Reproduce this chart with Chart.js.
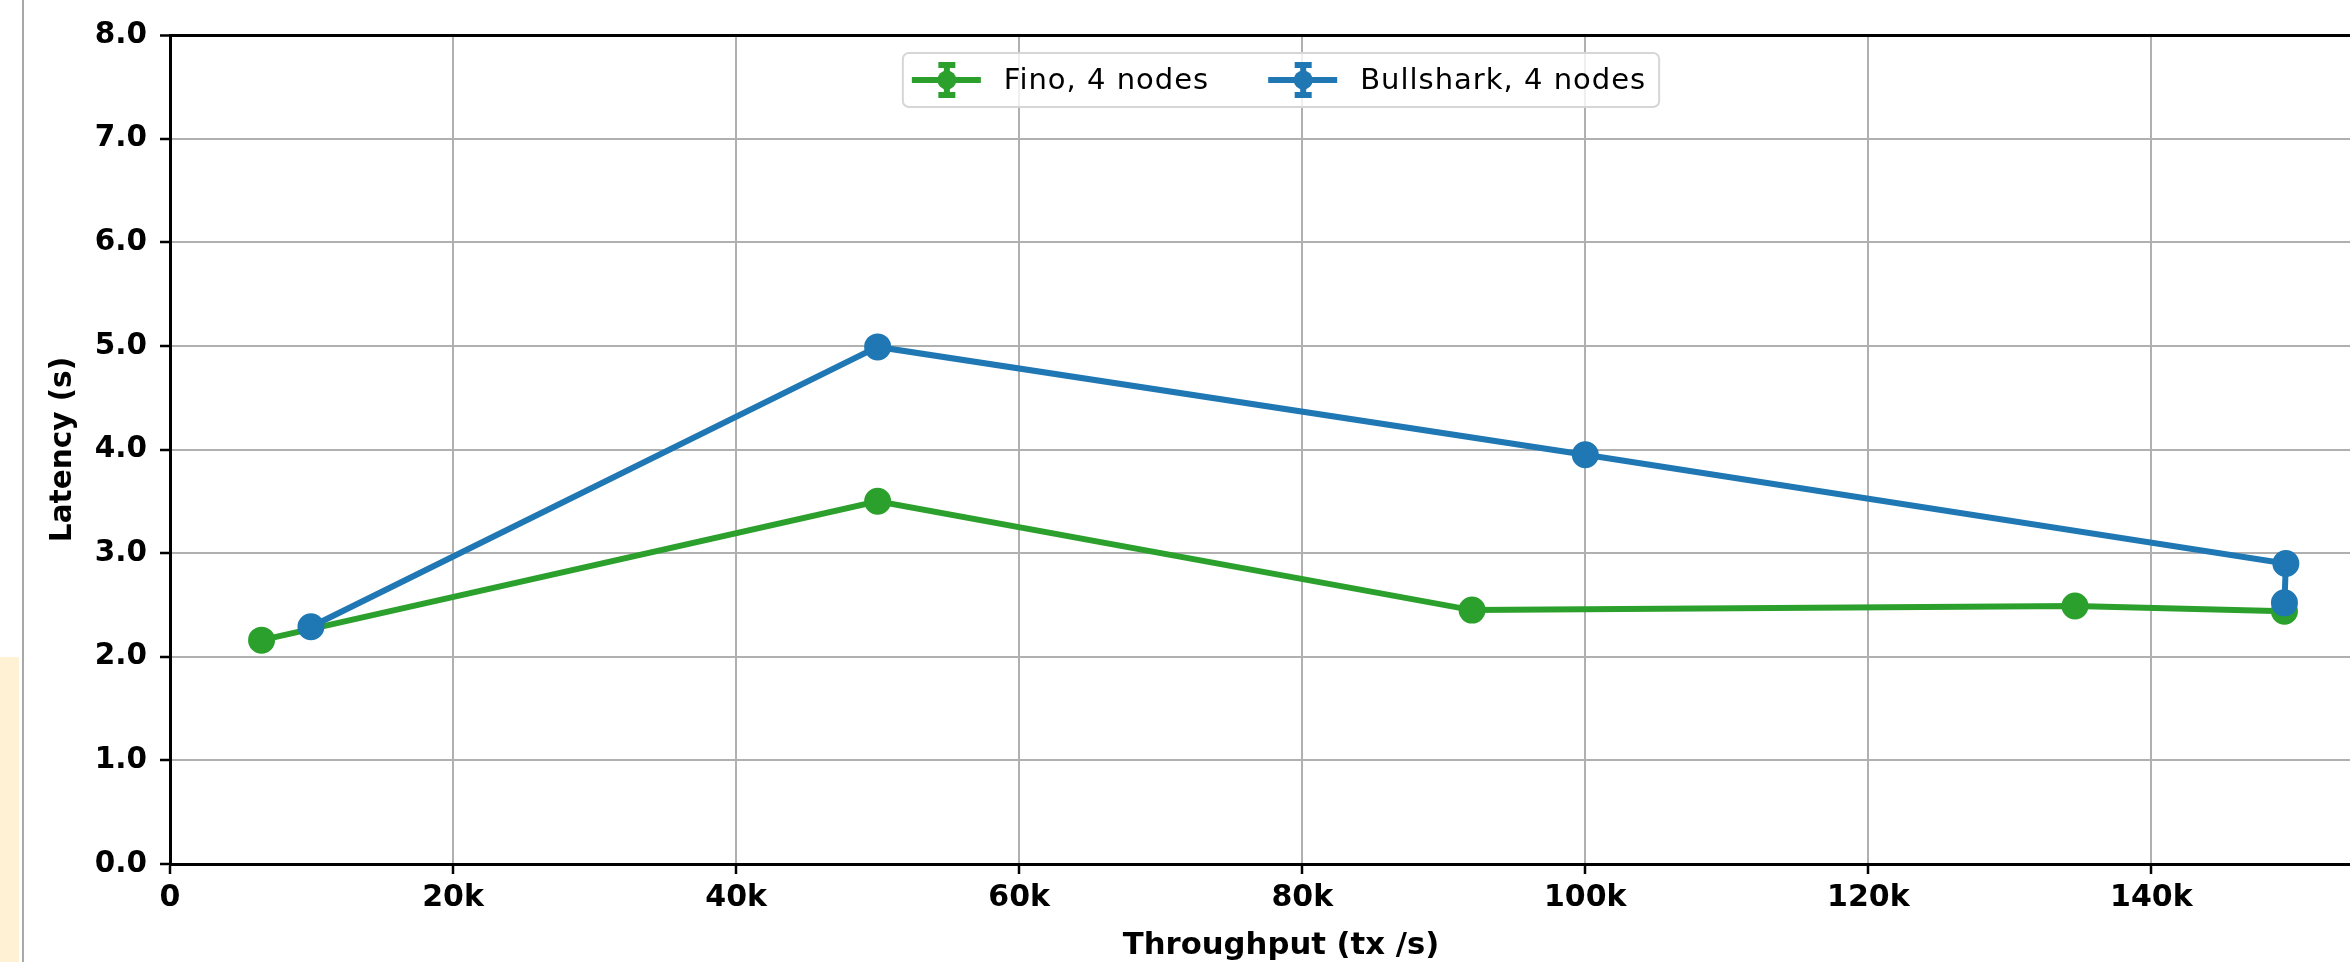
<!DOCTYPE html>
<html>
<head>
<meta charset="utf-8">
<script src="https://cdn.jsdelivr.net/npm/chart.js@4.4.0/dist/chart.umd.min.js"></script>
<style>
  html, body { margin: 0; padding: 0; background: #fff; }
  #wrap { position: relative; width: 2350px; height: 962px; overflow: hidden; background: #fff; }
  #chart { position: absolute; left: 0; top: 0; }
  .edge-note { position: absolute; left: 0; top: 657px; width: 19px; height: 305px; background: #fff1d4; }
  .edge-line { position: absolute; left: 22px; top: 0; width: 2px; height: 962px; background: #a8a8a8; }
</style>
</head>
<body>
<div id="wrap">
  <!-- the original axes run a little past the right edge of the crop -->
  <canvas id="chart" width="2392" height="962"></canvas>
  <div class="edge-note"></div>
  <div class="edge-line"></div>
</div>
<script>
// data
const finoThroughput = [6470, 50000, 92000, 134600, 149400];
const finoLatency = [2.16, 3.50, 2.45, 2.49, 2.44];
const bullsharkThroughput = [9960, 50000, 100000, 149500, 149400];
const bullsharkLatency = [2.29, 4.99, 3.95, 2.90, 2.52];
const seriesLabels = ['Fino, 4 nodes', 'Bullshark, 4 nodes'];
const seriesColors = ['#2ca02c', '#1f77b4'];
const xTicks = [0, 20000, 40000, 60000, 80000, 100000, 120000, 140000];
const yTicks = [0, 1, 2, 3, 4, 5, 6, 7, 8];

const FONT = '"DejaVu Sans", "Liberation Sans", sans-serif';
const GRID = '#b0b0b0';

function toPoints(xs, ys) {
  return xs.map((x, i) => ({ x: x, y: ys[i] }));
}

// legend drawn inside the plot, upper center, matplotlib style (line + dot + error caps)
const insideLegend = {
  id: 'insideLegend',
  afterDraw(chart) {
    const ctx = chart.ctx;
    const area = chart.chartArea;
    const h = 54;
    const top = area.top + 18;
    const cy = top + h / 2;
    ctx.save();
    ctx.font = '29px ' + FONT;
    ctx.letterSpacing = '1px';
    let widths = chart.data.datasets.map(d => ctx.measureText(d.label).width);
    let w = 9 + widths.reduce((s, tw) => s + 92 + tw, 0) + 59 * (widths.length - 1) + 13;
    const left = (area.left + area.right) / 2 - w / 2;

    ctx.fillStyle = 'rgba(255,255,255,0.8)';
    ctx.strokeStyle = '#d6d6d6';
    ctx.lineWidth = 2;
    ctx.beginPath();
    ctx.roundRect(left, top, w, h, 6);
    ctx.fill();
    ctx.stroke();

    let x = left + 9;
    chart.data.datasets.forEach((d, i) => {
      const c = d.borderColor;
      const mx = x + 35;
      ctx.strokeStyle = c;
      ctx.fillStyle = c;
      ctx.lineWidth = 6;
      ctx.beginPath();
      ctx.moveTo(x, cy); ctx.lineTo(x + 69, cy);
      ctx.moveTo(mx, cy - 15); ctx.lineTo(mx, cy + 15);
      ctx.moveTo(mx - 8.5, cy - 15); ctx.lineTo(mx + 8.5, cy - 15);
      ctx.moveTo(mx - 8.5, cy + 15); ctx.lineTo(mx + 8.5, cy + 15);
      ctx.stroke();
      ctx.beginPath();
      ctx.arc(mx, cy, 9.5, 0, Math.PI * 2);
      ctx.fill();
      ctx.fillStyle = '#000';
      ctx.textBaseline = 'middle';
      ctx.textAlign = 'left';
      ctx.fillText(d.label, x + 92, cy + 1);
      x += 92 + widths[i] + 59;
    });
    ctx.restore();
  }
};

const chart = new Chart(document.getElementById('chart').getContext('2d'), {
  type: 'scatter',
  data: {
    datasets: [
      {
        label: seriesLabels[0],
        data: toPoints(finoThroughput, finoLatency),
        borderColor: seriesColors[0],
        backgroundColor: seriesColors[0],
        showLine: true,
        borderWidth: 6,
        pointRadius: 10.5,
        pointHoverRadius: 10.5,
        order: 2
      },
      {
        label: seriesLabels[1],
        data: toPoints(bullsharkThroughput, bullsharkLatency),
        borderColor: seriesColors[1],
        backgroundColor: seriesColors[1],
        showLine: true,
        borderWidth: 6,
        pointRadius: 10.5,
        pointHoverRadius: 10.5,
        order: 1
      }
    ]
  },
  options: {
    responsive: false,
    devicePixelRatio: 1,
    animation: false,
    layout: { autoPadding: false, padding: { left: 47, top: 35, right: 0, bottom: 0 } },
    plugins: {
      legend: { display: false },
      tooltip: { enabled: false }
    },
    scales: {
      x: {
        type: 'linear',
        min: 0,
        max: 157000,
        afterBuildTicks: s => { s.ticks = xTicks.map(v => ({ value: v })); },
        afterFit: s => { s.height = 98; },
        ticks: {
          color: '#000',
          font: { family: FONT, size: 30, weight: 'bold' },
          padding: 6,
          maxRotation: 0,
          callback: v => v === 0 ? '0' : (v / 1000) + 'k'
        },
        grid: { color: GRID, lineWidth: 2, tickLength: 10, tickColor: '#000', tickWidth: 2.5 },
        border: { color: '#000', width: 3 },
        title: {
          display: true,
          text: 'Throughput (tx /s)',
          color: '#000',
          font: { family: FONT, size: 30.7, weight: 'bold', lineHeight: 1.03 },
          padding: 0
        }
      },
      y: {
        min: 0,
        max: 8,
        afterBuildTicks: s => { s.ticks = yTicks.map(v => ({ value: v })); },
        afterFit: s => { s.width = 123; },
        ticks: {
          color: '#000',
          font: { family: FONT, size: 29.5, weight: 'bold' },
          padding: 13,
          callback: v => v.toFixed(1)
        },
        grid: {
          color: c => c.tick && c.tick.value === 8 ? '#000' : GRID,
          lineWidth: c => c.tick && c.tick.value === 8 ? 3 : 2,
          tickLength: 10,
          tickColor: '#000',
          tickWidth: 2.5
        },
        border: { color: '#000', width: 3 },
        title: {
          display: true,
          text: 'Latency (s)',
          color: '#000',
          font: { family: FONT, size: 29.5, weight: 'bold', lineHeight: 1.1 },
          padding: 0
        }
      }
    }
  },
  plugins: [insideLegend]
});
</script>
</body>
</html>
